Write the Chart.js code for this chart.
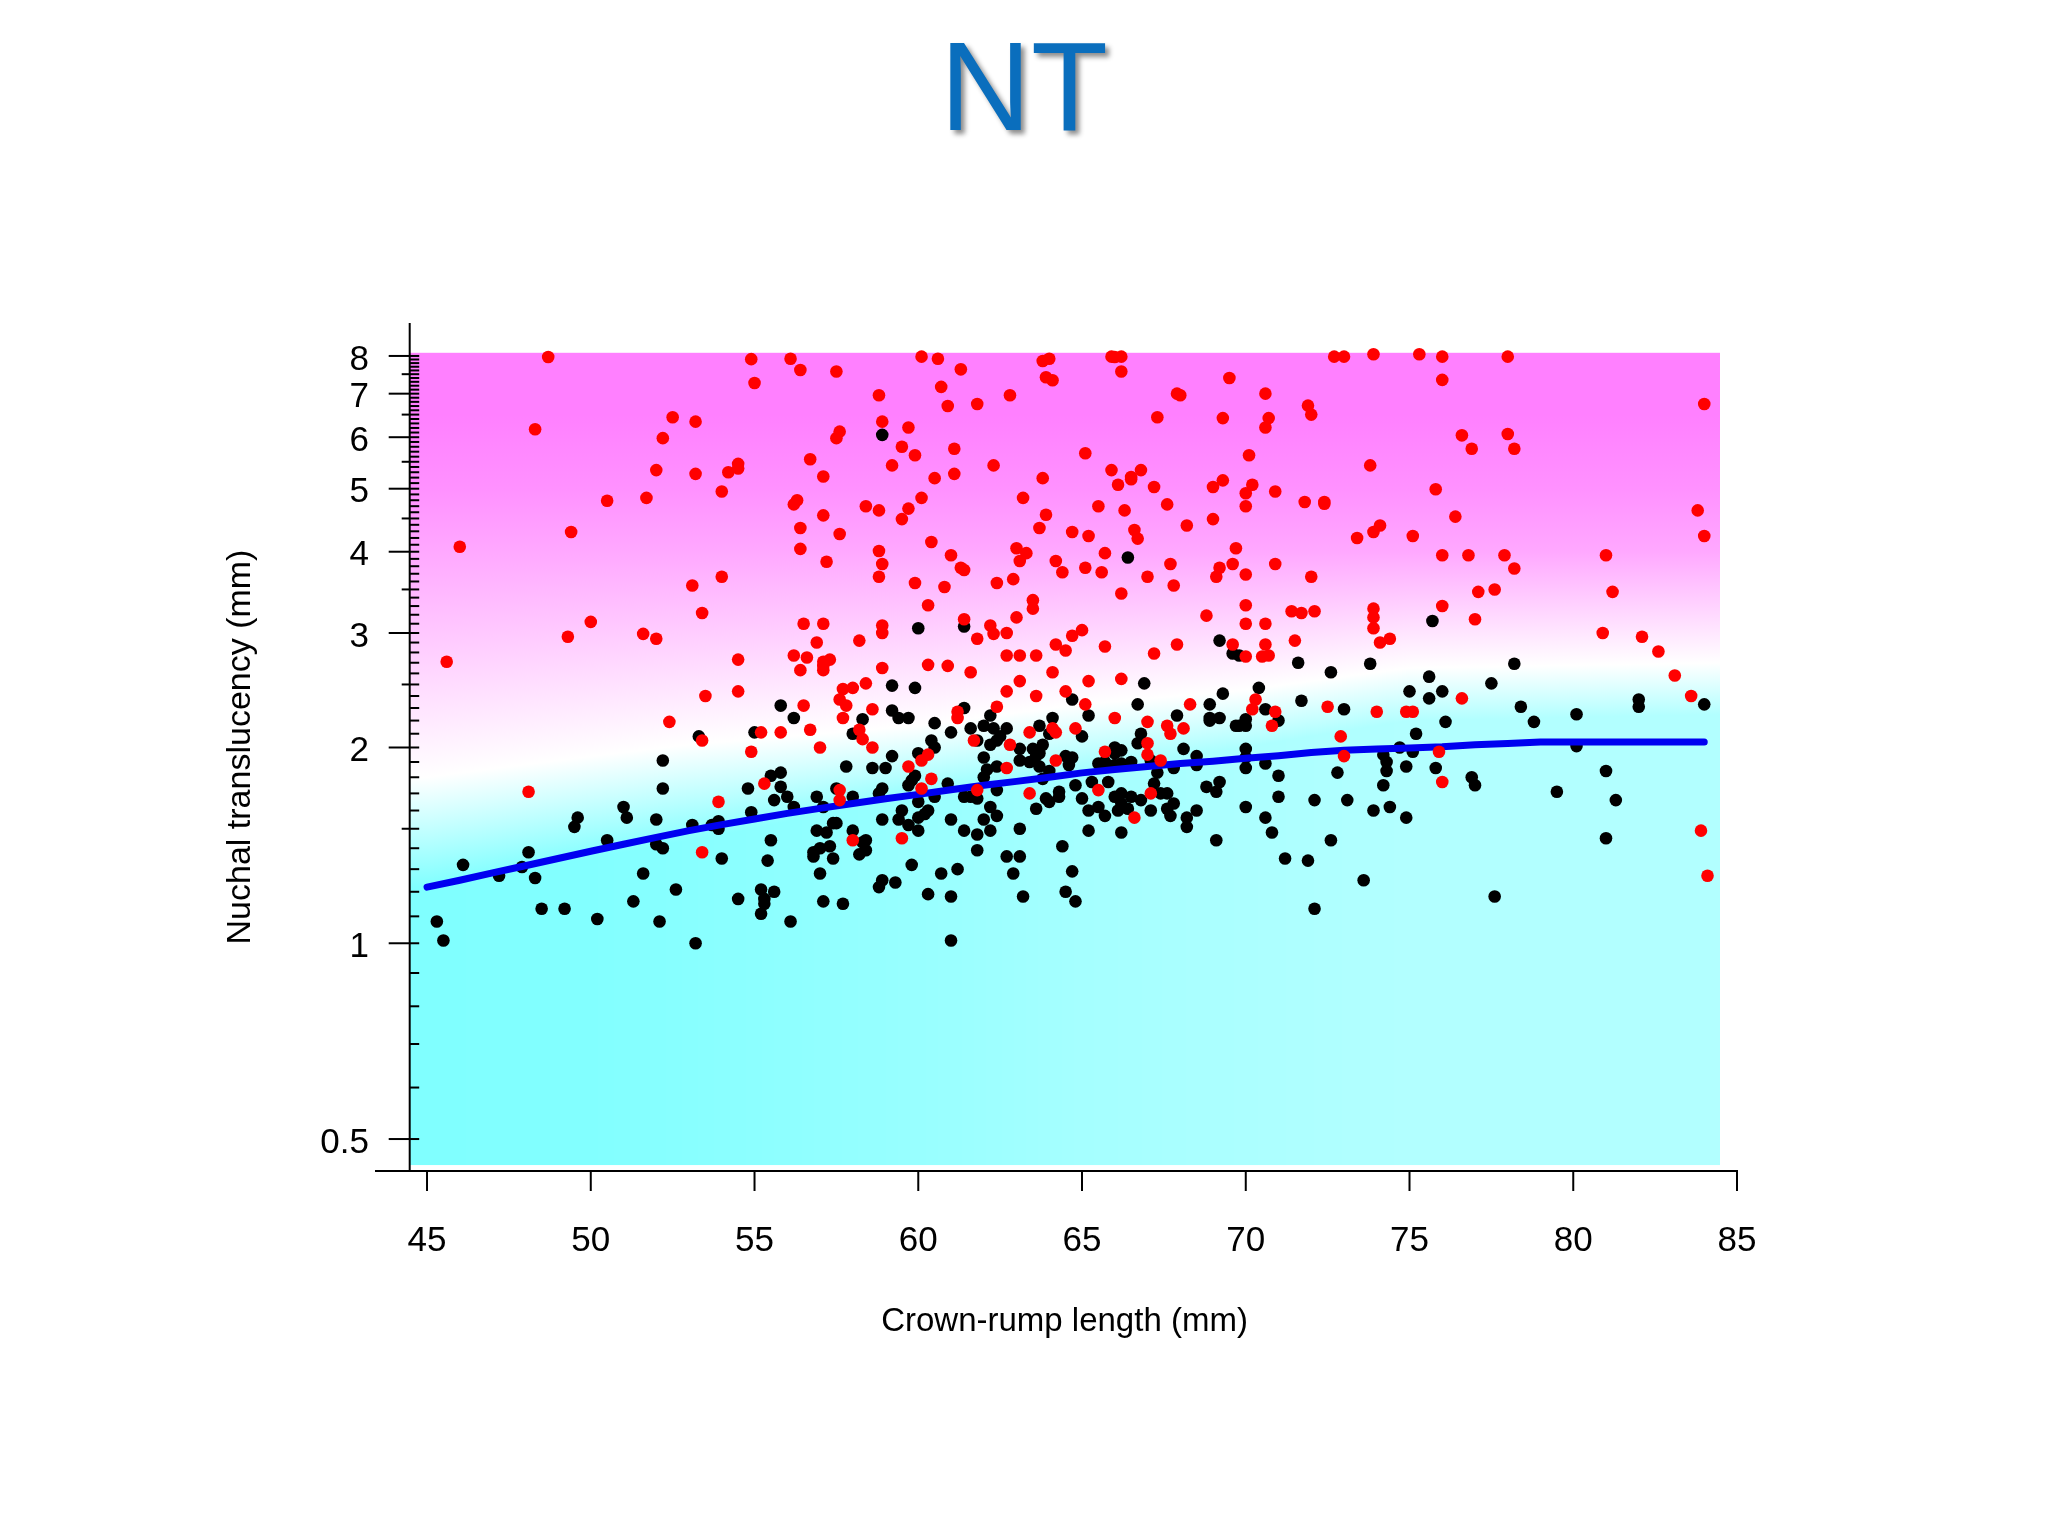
<!DOCTYPE html>
<html>
<head>
<meta charset="utf-8">
<title>NT</title>
<style>html,body{margin:0;padding:0;background:#fff}canvas{display:block}</style>
<script src="https://cdn.jsdelivr.net/npm/chart.js@4/dist/chart.umd.js"></script>
</head>
<body>
<canvas id="c" width="2048" height="1536"></canvas>
<script>
const chartTitle = 'NT';
const xAxisTitle = 'Crown-rump length (mm)';
const yAxisTitle = 'Nuchal translucency (mm)';
const xTickValues = [45,50,55,60,65,70,75,80,85];
const yLabelValues = [0.5,1,2,3,4,5,6,7,8];
const yMediumValues = [1.5,2.5,3.5,4.5,5.5,6.5,7.5];
const yTickValues = [0.5,0.6,0.7,0.8,0.9,1,1.1,1.2,1.3,1.4,1.5,1.6,1.7,1.8,1.9,2,2.1,2.2,2.3,2.4,2.5,2.6,2.7,2.8,2.9,3,3.1,3.2,3.3,3.4,3.5,3.6,3.7,3.8,3.9,4,4.1,4.2,4.3,4.4,4.5,4.6,4.7,4.8,4.9,5,5.1,5.2,5.3,5.4,5.5,5.6,5.7,5.8,5.9,6,6.1,6.2,6.3,6.4,6.5,6.6,6.7,6.8,6.9,7,7.1,7.2,7.3,7.4,7.5,7.6,7.7,7.8,7.9,8];

const curveX = [45,46,47,48,49,50,51,52,53,54,55,56,57,58,59,60,61,62,63,64,65,66,67,68,69,70,71,72,73,74,75,76,77,78,79,80,81,82,83,84];
const curveY = [1.22,1.25,1.283,1.316,1.35,1.385,1.42,1.455,1.49,1.522,1.553,1.584,1.612,1.64,1.668,1.694,1.722,1.75,1.774,1.8,1.828,1.85,1.87,1.89,1.905,1.925,1.943,1.965,1.98,1.99,1.997,2.005,2.02,2.028,2.04,2.04,2.04,2.04,2.04,2.04];

const redPoints = [
[48.7,7.97],[54.9,7.91],[56.1,7.92],[56.4,7.61],[57.5,7.57],[55.0,7.27],[52.5,6.44],[53.2,6.34],[48.3,6.17],[52.2,5.98],[57.6,6.12],[57.5,5.98],[56.7,5.55],[57.1,5.22],[52.0,5.34],[53.2,5.27],[54.5,5.46],[54.5,5.37],[54.2,5.30],[54.0,4.95],[51.7,4.84],[50.5,4.79],[56.3,4.80],[56.2,4.73],[57.1,4.55],[56.4,4.35],[57.6,4.26],[49.4,4.29],[56.4,4.04],[46.0,4.07],[57.2,3.86],[54.0,3.66],[53.1,3.55],[53.4,3.22],[56.5,3.10],[57.1,3.10],[50.0,3.12],[49.3,2.96],[51.6,2.99],[52.0,2.94],[56.9,2.90],[58.2,2.92],[56.2,2.77],[56.6,2.75],[57.3,2.73],[57.1,2.71],[57.1,2.67],[57.1,2.63],[56.4,2.63],[54.5,2.73],[45.6,2.71],[54.5,2.44],[53.5,2.40],[57.7,2.46],[58.0,2.47],[57.6,2.37],[56.5,2.32],[57.8,2.32],
[57.7,2.22],[58.6,2.29],[58.9,2.65],[58.4,2.51],[60.3,2.68],[60.9,2.67],[61.6,2.61],[62.7,2.77],[63.1,2.77],[63.6,2.77],[64.5,2.82],[64.1,2.61],[63.1,2.53],[65.2,2.53],[62.7,2.44],[63.6,2.40],[64.5,2.44],[62.4,2.31],[61.2,2.27],[61.2,2.22],[65.1,2.33],[64.8,2.14],[64.1,2.14],[64.2,2.11],[63.4,2.11],[61.7,2.05],[62.8,2.02],[64.2,1.91],[62.7,1.86],[60.3,1.95],[60.1,1.91],[59.7,1.87],[60.4,1.79],[60.1,1.73],[61.8,1.72],[63.4,1.70],[65.5,1.72],[59.5,1.45],[58.0,1.44],[57.6,1.72],[57.6,1.66],[55.3,1.76],[53.9,1.65],[53.4,1.38],[54.9,1.97],[53.4,2.05],[55.2,2.11],[55.8,2.11],[56.7,2.13],[57.0,2.00],[58.2,2.13],[58.3,2.06],[58.6,2.00],
[52.4,2.19],[48.1,1.71],
[60.1,7.98],[60.6,7.92],[61.3,7.63],[63.8,7.86],[64.0,7.92],[65.9,7.98],[66.2,7.98],[66.0,7.97],[66.2,7.57],[63.9,7.42],[64.1,7.34],[60.7,7.17],[58.8,6.96],[62.8,6.96],[60.9,6.70],[61.8,6.75],[67.3,6.44],[58.9,6.34],[59.7,6.21],[59.5,5.80],[59.9,5.63],[61.1,5.76],[59.2,5.43],[62.3,5.43],[65.1,5.67],[60.5,5.19],[61.1,5.27],[63.8,5.19],[65.9,5.34],[66.8,5.34],[66.5,5.21],[66.5,5.17],[66.1,5.07],[67.2,5.03],[60.1,4.84],[63.2,4.84],[58.4,4.70],[58.8,4.63],[59.7,4.66],[59.5,4.49],[65.5,4.70],[66.3,4.63],[63.9,4.56],[63.7,4.35],[66.6,4.32],[66.7,4.19],[64.7,4.29],[65.2,4.23],[60.4,4.14],[58.8,4.01],[61.0,3.95],[63.0,4.05],[63.3,3.98],[63.1,3.87],[65.7,3.98],[58.9,3.83],[61.3,3.78],[61.4,3.75],[64.2,3.87],[64.4,3.72],[65.1,3.78],[65.6,3.72],[58.8,3.66],[59.9,3.58],[60.8,3.53],[62.4,3.58],[62.9,3.63],[67.0,3.66],[66.2,3.45],[60.3,3.31],[63.5,3.37],[63.5,3.27],[63.0,3.17],[61.4,3.15],[58.9,3.08],[58.9,3.00],[62.2,3.08],[62.3,2.99],[62.7,3.00],[65.0,3.03],[64.7,2.97],[61.8,2.94],[64.2,2.88],[65.7,2.86],[67.2,2.79],
[72.7,7.98],[73.0,7.98],[73.9,8.05],[75.3,8.05],[76.0,7.98],[76.0,7.35],[69.5,7.40],[67.9,7.00],[68.0,6.96],[70.6,7.00],[71.9,6.71],[72.0,6.50],[69.3,6.42],[70.7,6.42],[70.6,6.21],[70.1,5.63],[73.8,5.43],[69.3,5.15],[69.0,5.03],[70.2,5.07],[70.0,4.92],[70.9,4.95],[75.8,4.99],[67.6,4.73],[71.8,4.77],[72.4,4.77],[72.4,4.74],[70.0,4.70],[69.0,4.49],[68.2,4.39],[74.1,4.39],[73.9,4.29],[73.4,4.20],[75.1,4.23],[69.7,4.05],[67.7,3.83],[69.6,3.83],[70.9,3.83],[76.0,3.95],[69.2,3.78],[69.1,3.66],[70.0,3.69],[72.0,3.66],[67.8,3.55],[70.0,3.31],[71.4,3.24],[71.7,3.22],[72.1,3.24],[73.9,3.27],[73.9,3.17],[73.9,3.05],[76.0,3.30],[68.8,3.19],[70.0,3.10],[70.6,3.10],[74.1,2.90],[74.4,2.94],[71.5,2.92],[67.9,2.88],[69.6,2.88],[70.6,2.88],[70.5,2.76],[70.7,2.77],[70.0,2.76],
[78.0,7.98],[84.0,6.75],[76.6,6.04],[76.9,5.76],[78.0,6.07],[78.2,5.76],[76.4,4.53],[83.8,4.63],[84.0,4.23],[76.8,3.95],[77.9,3.95],[81.0,3.95],[78.2,3.77],[77.1,3.47],[77.6,3.50],[81.2,3.47],[77.0,3.15],[80.9,3.00],[82.1,2.96],[82.6,2.81],[83.1,2.58],[83.6,2.40],[76.6,2.38],[74.9,2.27],[75.1,2.27],[75.9,1.97],[76.0,1.77],[83.9,1.49],[84.1,1.27],
[66.2,2.55],[68.3,2.33],[66.0,2.22],[67.0,2.19],[67.6,2.16],[67.7,2.10],[68.1,2.14],[70.3,2.37],[70.2,2.29],[70.9,2.27],[70.8,2.16],[72.5,2.31],[74.0,2.27],[72.9,2.08],[73.0,1.94],[65.7,1.97],[67.0,2.03],[67.0,1.95],[67.4,1.91],[67.1,1.70],[66.6,1.56]
];

const blackPoints = [
[55.8,2.32],[59.2,2.49],[59.9,2.47],[61.4,2.30],[62.2,2.24],[59.2,2.28],[59.4,2.22],[59.7,2.22],[58.3,2.21],[60.5,2.18],[61.0,2.11],[61.6,2.14],[62.0,2.16],[62.3,2.14],[62.7,2.14],[63.7,2.16],[64.1,2.22],[64.7,2.37],[65.2,2.24],[64.0,2.10],[65.0,2.08],[62.5,2.08],[62.4,2.05],[62.2,2.02],[61.8,2.05],[60.4,2.05],[60.5,2.00],[60.0,1.96],[59.2,1.94],[57.8,1.87],[58.6,1.86],[59.0,1.86],[55.0,2.11],[56.2,2.22],[58.0,2.10],[63.1,1.99],[63.5,1.99],[63.7,1.96],[63.8,2.02],[63.1,1.91],[63.4,1.90],[62.0,1.93],[62.1,1.85],[62.4,1.87],[62.0,1.80],[64.5,1.94],[64.7,1.93],[64.6,1.88],[63.7,1.87],[64.0,1.84],[63.8,1.79],[65.5,1.89],[65.3,1.77],[64.8,1.75],[62.4,1.72],[61.4,1.68],[61.6,1.68],[61.8,1.67],[60.9,1.76],[59.9,1.81],[59.8,1.78],[59.7,1.75],[58.9,1.73],[58.8,1.70],[60.5,1.68],[60.0,1.65],[62.2,1.62],[62.4,1.57],[63.9,1.67],[64.0,1.65],[64.3,1.71],[64.3,1.68],[65.0,1.67],[63.6,1.61],[65.2,1.60],[65.5,1.62],[65.2,1.49],[63.1,1.50],[62.0,1.55],[62.2,1.49],[61.8,1.47],[61.4,1.49],[61.0,1.55],[60.3,1.60],[60.2,1.58],[59.5,1.60],[60.0,1.56],[59.4,1.55],[59.7,1.52],[60.0,1.49],[58.9,1.55],[57.4,1.53],[57.5,1.53],[58.0,1.49],[56.9,1.49],[57.2,1.48],[58.4,1.44],[58.3,1.43],[58.4,1.39],[58.2,1.37],[57.3,1.41],[57.0,1.40],[56.8,1.38],[56.8,1.36],[57.4,1.35],[57.0,1.28],[55.5,1.44],[55.4,1.34],[54.0,1.35],[55.2,1.21],[55.6,1.20],[55.3,1.17],[55.3,1.15],[55.2,1.11],[54.5,1.17],[56.1,1.08],[57.1,1.16],[57.7,1.15],[59.8,1.32],[60.7,1.28],[61.2,1.30],[58.9,1.25],[58.8,1.22],[59.3,1.24],[60.3,1.19],[61.0,1.18],[61.0,1.01],[61.8,1.39],[62.7,1.36],[63.1,1.36],[62.9,1.28],[63.2,1.18],[64.4,1.41],[64.7,1.29],[64.5,1.20],[64.8,1.16],[53.7,1.52],[53.9,1.54],[53.9,1.50],[54.9,1.59],[54.8,1.73],[55.5,1.81],[55.8,1.83],[55.8,1.74],[56.0,1.68],[55.6,1.66],[56.2,1.62],[56.9,1.68],[57.1,1.62],[57.5,1.73],[58.0,1.68],[63.6,1.94],
[53.3,2.08],[52.2,1.91],[52.2,1.73],[51.0,1.62],[51.1,1.56],[52.0,1.55],[49.6,1.56],[49.5,1.51],[53.1,1.52],[50.5,1.44],[52.0,1.42],[52.2,1.40],[48.1,1.38],[46.1,1.32],[47.9,1.31],[47.2,1.27],[48.3,1.26],[51.6,1.28],[52.6,1.21],[51.3,1.16],[48.5,1.13],[49.2,1.13],[50.2,1.09],[52.1,1.08],[45.3,1.08],[45.5,1.01],[53.2,1.00],
[58.9,6.05],[66.4,3.92],[60.0,3.05],[61.4,3.07],
[75.7,3.13],[69.2,2.92],[69.6,2.79],[69.8,2.77],
[78.2,2.69],[77.5,2.51],[78.4,2.31],[78.8,2.19],[80.1,2.25],[82.0,2.37],[82.0,2.31],[84.0,2.33],[80.1,2.01],[81.0,1.84],[81.3,1.66],[79.5,1.71],[81.0,1.45],[77.6,1.18],
[71.6,2.70],[73.8,2.69],[72.6,2.61],[75.6,2.57],[75.0,2.44],[76.0,2.44],[75.6,2.38],[66.9,2.51],[70.4,2.47],[69.3,2.42],[71.7,2.36],[68.9,2.33],[66.7,2.33],[67.9,2.24],[68.9,2.22],[68.9,2.20],[69.2,2.22],[70.0,2.21],[69.7,2.16],[69.8,2.16],[70.0,2.16],[70.6,2.29],[71.0,2.20],[73.0,2.29],[76.1,2.19],[75.2,2.10],[66.8,2.10],[66.7,2.03],[66.0,2.00],[66.2,1.98],[66.0,1.96],[68.1,1.99],[68.5,1.94],[70.0,1.99],[70.0,1.93],[74.7,2.00],[74.2,1.95],[75.1,1.97],[74.3,1.90],[74.3,1.84],[74.9,1.87],[75.8,1.86],[74.2,1.75],[72.8,1.83],[76.9,1.80],[77.0,1.75],[71.0,1.81],[70.6,1.89],[70.0,1.86],[68.5,1.88],[67.8,1.86],[67.1,1.91],[67.3,1.83],[67.2,1.76],[65.8,1.77],[69.2,1.77],[68.8,1.74],[69.1,1.71],[71.0,1.68],[70.0,1.62],[72.1,1.66],[73.1,1.66],[73.9,1.60],[74.4,1.62],[74.9,1.56],[70.6,1.56],[70.8,1.48],[72.6,1.44],[71.2,1.35],[71.9,1.34],[73.6,1.25],[72.1,1.13],[69.1,1.44],[68.2,1.56],[68.2,1.51],[68.5,1.60],[67.8,1.64],[67.6,1.61],[67.7,1.57],[67.1,1.60],[66.8,1.66],[66.2,1.48],[65.7,1.57],[66.1,1.60],[66.4,1.61],[66.2,1.70],[66.0,1.68],[66.5,1.68],[66.2,1.64],[67.4,1.70],[67.6,1.70],[66.5,1.90],[65.7,1.90],[66.0,1.88],[66.2,1.89]
];

// Background colour field: white ridge, and the cyan saturation reached below it
const fieldX = [45,53,60,65,70,75,85];
const whiteRidge = [1.80,2.02,2.16,2.33,2.45,2.65,2.70];
const cyanX = [45,50,55,60,65,70,75,85];
const cyanReach = [1.22,1.35,1.50,1.70,1.85,2.00,2.20,2.25];
const cyanRed = [128,130,140,152,165,172,178,178];
const magentaValues = [8.09,6.5,5,4];
const magentaGreen = [128,128,145,168];
const fieldTop = 8.09, fieldBottom = 0.456, fieldRight = 84.49;

function lerpAt(xs, ys, x) {
  if (x <= xs[0]) return ys[0];
  for (let i = 1; i < xs.length; i++) {
    if (x <= xs[i]) return ys[i-1] + (ys[i]-ys[i-1]) * (x-xs[i-1]) / (xs[i]-xs[i-1]);
  }
  return ys[ys.length-1];
}

const fieldPlugin = {
  id: 'field',
  beforeDatasetsDraw(chart) {
    const {ctx, scales:{x:sx, y:sy}} = chart;
    const left = Math.round(sx.left), right = Math.round(sx.getPixelForValue(fieldRight));
    const top = sy.getPixelForValue(fieldTop), bottom = sy.getPixelForValue(fieldBottom);
    const span = bottom - top;
    const stopAt = v => Math.min(1, Math.max(0, (sy.getPixelForValue(v) - top) / span));
    ctx.save();
    for (let px = left; px < right; px += 4) {
      const v = sx.getValueForPixel(px + 2);
      const g = ctx.createLinearGradient(0, top, 0, bottom);
      magentaValues.forEach((m, i) => g.addColorStop(stopAt(m), `rgb(255,${magentaGreen[i]},255)`));
      g.addColorStop(stopAt(lerpAt(fieldX, whiteRidge, v)), 'rgb(255,255,255)');
      const r = Math.round(lerpAt(cyanX, cyanRed, v));
      g.addColorStop(stopAt(lerpAt(cyanX, cyanReach, v)), `rgb(${r},255,255)`);
      g.addColorStop(1, `rgb(${r},255,255)`);
      ctx.fillStyle = g;
      ctx.fillRect(px, top, Math.min(4, right - px), span);
    }
    // axes and tick marks, placed through the scales
    ctx.strokeStyle = '#000';
    ctx.lineWidth = 2;
    const axisX = chart.chartArea.left - 0.3, axisY = chart.chartArea.bottom;
    const line = (a,b,c,d) => { ctx.beginPath(); ctx.moveTo(a,b); ctx.lineTo(c,d); ctx.stroke(); };
    line(axisX, chart.chartArea.top, axisX, axisY);
    line(375, axisY, sx.getPixelForValue(85) + 1, axisY);
    xTickValues.forEach(t => { const p = sx.getPixelForValue(t); line(p, axisY, p, axisY + 20); });
    yTickValues.forEach(t => {
      const p = sy.getPixelForValue(t);
      const start = yLabelValues.includes(t) ? axisX - 21 : yMediumValues.includes(t) ? axisX - 8 : axisX;
      line(start, p, axisX + 9.5, p);
    });
    ctx.restore();
  }
};

// Fine placement of text that Chart.js positions on its own
const textPlacementPlugin = {
  id: 'textPlacement',
  afterLayout(chart) {
    const tb = chart.titleBlock;
    if (tb && !tb.__wrapped) {
      const orig = tb.draw;
      tb.draw = function (a) {
        const c = this.ctx;
        this.left = 0; this.right = chart.width;
        c.save();
        c.shadowColor = 'rgba(0,0,0,0.45)';
        c.shadowBlur = 5;
        c.shadowOffsetX = 4;
        c.shadowOffsetY = 4;
        orig.call(this, a);
        c.restore();
      };
      tb.__wrapped = true;
    }
    const sx = chart.scales.x, sy = chart.scales.y;
    if (!sx.__wrapped) {
      const origTitle = sx.drawTitle;
      sx.drawTitle = function (a) {
        this.ctx.save(); this.ctx.translate(-9, 0);
        origTitle.call(this, a);
        this.ctx.restore();
      };
      sx.__wrapped = true;
    }
    if (!sy.__wrapped) {
      const origLabels = sy.drawLabels;
      sy.drawLabels = function (a) {
        this.ctx.save(); this.ctx.translate(0, 4);
        origLabels.call(this, a);
        this.ctx.restore();
      };
      sy.__wrapped = true;
    }
  }
};

const FONT = '"Liberation Sans", Arial, sans-serif';
new Chart(document.getElementById('c'), {
  type: 'scatter',
  data: { datasets: [
    { label:'Euploid', order:3, data: blackPoints.map(p=>({x:p[0],y:p[1]})), backgroundColor:'#000', pointRadius:6.3, borderWidth:0, pointBorderWidth:0 },
    { label:'Median', order:2, type:'line', data: curveX.map((x,i)=>({x,y:curveY[i]})), borderColor:'#0000f0', borderWidth:7, borderCapStyle:'round', borderJoinStyle:'round', pointRadius:0, tension:0, fill:false },
    { label:'Affected', order:1, data: redPoints.map(p=>({x:p[0],y:p[1]})), backgroundColor:'#ff0000', pointRadius:6.3, borderWidth:0, pointBorderWidth:0 }
  ]},
  options: {
    responsive:false, animation:false, events:[],
    layout:{ padding:{ left:0, right:311, top:0, bottom:0 } },
    plugins:{
      legend:{display:false}, tooltip:{enabled:false},
      title:{ display:true, text:chartTitle, color:'#0a6ebd', align:'center', font:{family:FONT,size:126,weight:'normal',lineHeight:1}, padding:{top:32,bottom:165} }
    },
    scales:{
      x:{ type:'linear', min:44.48, max:85, bounds:'data',
        grid:{display:false,drawTicks:false}, border:{display:false},
        afterBuildTicks:s=>{ s.ticks = xTickValues.map(v=>({value:v})); },
        afterFit:s=>{ s.height = 365; },
        ticks:{ autoSkip:false, maxRotation:0, color:'#000', padding:49, font:{family:FONT,size:35}, callback:v=>String(v) },
        title:{ display:true, text:xAxisTitle, color:'#000', font:{family:FONT,size:33,lineHeight:1}, padding:{top:198,bottom:198} }
      },
      y:{ type:'logarithmic', min:0.4465, max:8.99, bounds:'data',
        grid:{display:false,drawTicks:false}, border:{display:false},
        afterBuildTicks:s=>{ s.ticks = yTickValues.map(v=>({value:v})); },
        afterFit:s=>{ s.width = 410; },
        ticks:{ autoSkip:false, color:'#000', padding:41, font:{family:FONT,size:35}, callback:v=>yLabelValues.includes(v)?String(v):'' },
        title:{ display:true, text:yAxisTitle, color:'#000', font:{family:FONT,size:34,lineHeight:1}, padding:{top:224,bottom:224} }
      }
    }
  },
  plugins:[fieldPlugin, textPlacementPlugin]
});
</script>
</body>
</html>
